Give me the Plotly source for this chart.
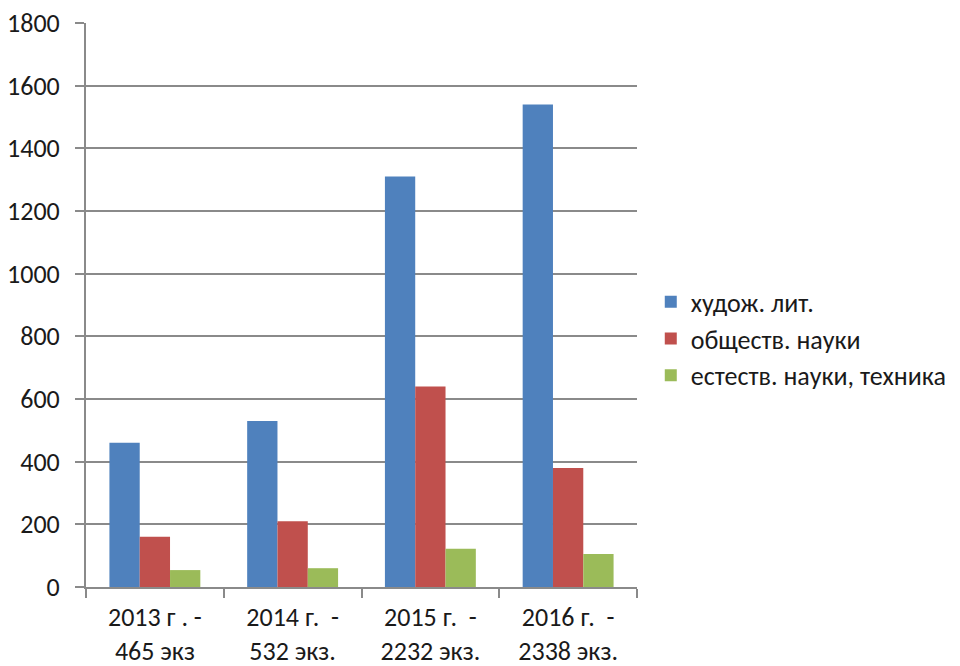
import plotly.graph_objects as go

categories = ["2013 г . -<br>465 экз", "2014 г.  -<br>532 экз.", "2015 г.  -<br>2232 экз.", "2016 г.  -<br>2338 экз."]
series_names = ["худож. лит.", "обществ. науки", "естеств. науки, техника"]
fiction = [460, 530, 1310, 1540]
social = [160, 210, 640, 380]
natural = [54, 60, 122, 105]
colors = ["#4F81BD", "#C0504D", "#9BBB59"]
y_ticks = [0, 200, 400, 600, 800, 1000, 1200, 1400, 1600, 1800]

FONT = "Carlito, Calibri, 'Liberation Sans', 'DejaVu Sans', sans-serif"

fig = go.Figure()
for name, vals, c in zip(series_names, [fiction, social, natural], colors):
    fig.add_trace(go.Bar(name=name, x=categories, y=vals, marker=dict(color=c, line=dict(width=0))))

fig.update_layout(
    width=960, height=666,
    margin=dict(l=86, r=323, t=23, b=79, autoexpand=False),
    paper_bgcolor="white", plot_bgcolor="white",
    barmode="group", bargap=0.34, bargroupgap=0,
    font=dict(family=FONT, size=26, color="#1a1a1a"),
    legend=dict(x=1.025, y=0.44, xanchor="left", yanchor="middle",
                font=dict(size=26), tracegroupgap=0,
                bgcolor="rgba(0,0,0,0)"),
    showlegend=True,
)
fig.update_yaxes(range=[0, 1800], tickvals=y_ticks, showgrid=True, gridcolor="#8a8a8a", gridwidth=2,
                 showline=True, linecolor="#8a8a8a", linewidth=2, ticks="outside", ticklen=9,
                 tickcolor="#8a8a8a", tickwidth=2, zeroline=False, ticklabelstandoff=10,
                 tickfont=dict(size=26), automargin=False, ticklabeloverflow="allow")
fig.update_xaxes(showline=True, linecolor="#8a8a8a", linewidth=2, ticks="outside", ticklen=9,
                 tickcolor="#8a8a8a", tickwidth=2, tickson="boundaries", showgrid=False,
                 tickfont=dict(size=26), ticklabelstandoff=6, automargin=False,
                 ticklabeloverflow="allow")

fig.write_html("out.html", config={"displayModeBar": False},
               post_script="document.body.style.margin='0';")
